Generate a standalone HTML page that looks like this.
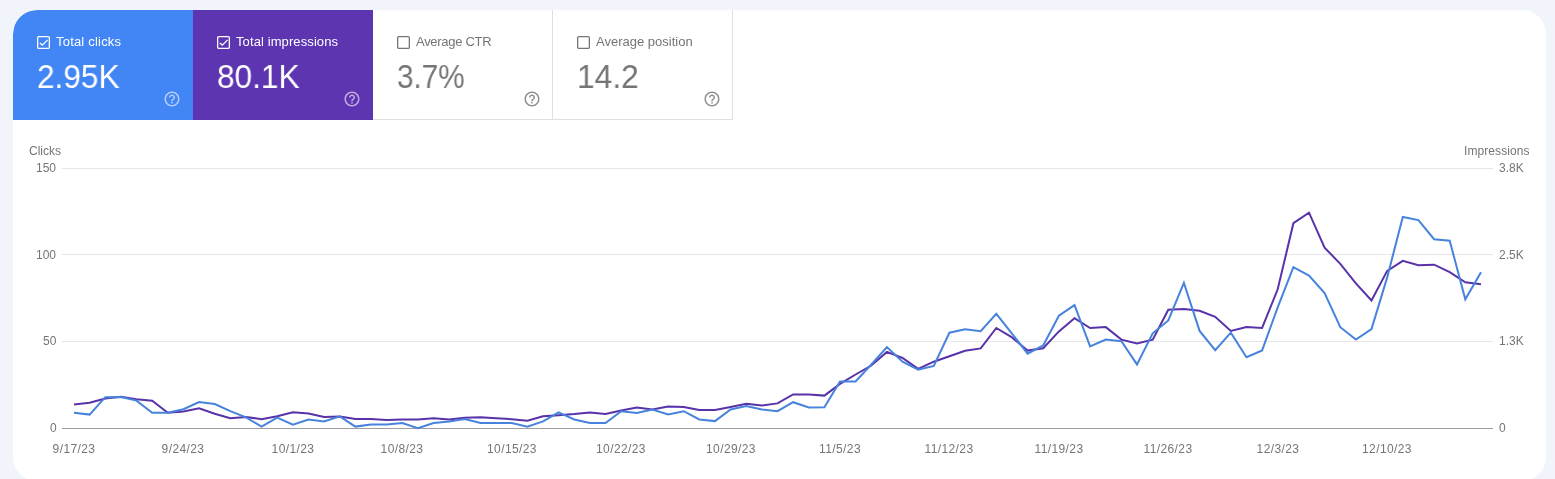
<!DOCTYPE html>
<html><head><meta charset="utf-8"><style>
html,body{margin:0;padding:0;}
body{width:1555px;height:479px;background:#f1f4fb;position:relative;overflow:hidden;font-family:"Liberation Sans",sans-serif;}
.card{position:absolute;left:13px;top:10px;width:1533px;height:471px;background:#fff;border-radius:24px;overflow:hidden;}
.tab{position:absolute;top:0;width:180px;height:110px;}
.lbl{will-change:transform;position:absolute;left:43px;top:24px;font-size:13px;line-height:16px;white-space:nowrap;}
.val{will-change:transform;transform-origin:0 0;position:absolute;left:24px;top:49px;font-size:33px;line-height:36px;white-space:nowrap;}
.ax{will-change:transform;position:absolute;font-size:12px;line-height:14px;color:#757575;white-space:nowrap;}
.xl{will-change:transform;position:absolute;top:442px;width:80px;text-align:center;font-size:12px;line-height:14px;color:#757575;letter-spacing:0.4px;}
</style></head><body>
<div class="card">
<div class="tab" style="left:0px;background:#4285f4;border-top-left-radius:24px;">
<svg width="14" height="14" viewBox="0 0 14 14" style="position:absolute;left:24px;top:26px"><rect x="0.65" y="0.65" width="11.7" height="11.7" rx="1.2" fill="none" stroke="#ffffff" stroke-width="1.3"/><path d="M2.8 7 L5.35 9.1 L10.6 3.9" fill="none" stroke="#ffffff" stroke-width="1.3"/></svg>
<div class="lbl" style="color:#ffffff;letter-spacing:0.2px">Total clicks</div>
<div class="val" style="color:#ffffff;transform:scaleX(0.958)">2.95K</div>
<svg width="18" height="18" viewBox="0 0 24 24" style="position:absolute;left:149.7px;top:80px;opacity:0.6"><path fill="#ffffff" d="M11 18h2v-2h-2v2zm1-16C6.48 2 2 6.48 2 12s4.48 10 10 10 10-4.48 10-10S17.52 2 12 2zm0 18c-4.41 0-8-3.59-8-8s3.59-8 8-8 8 3.590 8 8-3.59 8-8 8zm0-14c-2.210 0-4 1.79-4 4h2c0-1.1.9-2 2-2s2 .9 2 2c0 2-3 1.75-3 5h2c0-2.25 3-2.5 3-5 0-2.21-1.79-4-4-4z"/></svg>
</div>
<div class="tab" style="left:180px;background:#5e35b1;">
<svg width="14" height="14" viewBox="0 0 14 14" style="position:absolute;left:24px;top:26px"><rect x="0.65" y="0.65" width="11.7" height="11.7" rx="1.2" fill="none" stroke="#ffffff" stroke-width="1.3"/><path d="M2.8 7 L5.35 9.1 L10.6 3.9" fill="none" stroke="#ffffff" stroke-width="1.3"/></svg>
<div class="lbl" style="color:#ffffff;letter-spacing:0.1px">Total impressions</div>
<div class="val" style="color:#ffffff;transform:scaleX(0.958)">80.1K</div>
<svg width="18" height="18" viewBox="0 0 24 24" style="position:absolute;left:149.7px;top:80px;opacity:0.6"><path fill="#ffffff" d="M11 18h2v-2h-2v2zm1-16C6.48 2 2 6.48 2 12s4.48 10 10 10 10-4.48 10-10S17.52 2 12 2zm0 18c-4.41 0-8-3.59-8-8s3.59-8 8-8 8 3.590 8 8-3.59 8-8 8zm0-14c-2.210 0-4 1.79-4 4h2c0-1.1.9-2 2-2s2 .9 2 2c0 2-3 1.75-3 5h2c0-2.25 3-2.5 3-5 0-2.21-1.79-4-4-4z"/></svg>
</div>
<div class="tab" style="left:360px;background:#fff;border-right:1px solid #e0e0e0;border-bottom:1px solid #e0e0e0;box-sizing:border-box;">
<svg width="14" height="14" viewBox="0 0 14 14" style="position:absolute;left:24px;top:26px"><rect x="0.65" y="0.65" width="11.7" height="11.7" rx="1.2" fill="none" stroke="#757575" stroke-width="1.3"/></svg>
<div class="lbl" style="color:#757575;letter-spacing:-0.3px">Average CTR</div>
<div class="val" style="color:#757575;transform:scaleX(0.9)">3.7%</div>
<svg width="18" height="18" viewBox="0 0 24 24" style="position:absolute;left:149.7px;top:80px;opacity:0.8"><path fill="#757575" d="M11 18h2v-2h-2v2zm1-16C6.48 2 2 6.48 2 12s4.48 10 10 10 10-4.48 10-10S17.52 2 12 2zm0 18c-4.41 0-8-3.59-8-8s3.59-8 8-8 8 3.590 8 8-3.59 8-8 8zm0-14c-2.210 0-4 1.79-4 4h2c0-1.1.9-2 2-2s2 .9 2 2c0 2-3 1.75-3 5h2c0-2.25 3-2.5 3-5 0-2.21-1.79-4-4-4z"/></svg>
</div>
<div class="tab" style="left:540px;background:#fff;border-right:1px solid #e0e0e0;border-bottom:1px solid #e0e0e0;box-sizing:border-box;">
<svg width="14" height="14" viewBox="0 0 14 14" style="position:absolute;left:24px;top:26px"><rect x="0.65" y="0.65" width="11.7" height="11.7" rx="1.2" fill="none" stroke="#757575" stroke-width="1.3"/></svg>
<div class="lbl" style="color:#757575;letter-spacing:0px">Average position</div>
<div class="val" style="color:#757575;transform:scaleX(0.963)">14.2</div>
<svg width="18" height="18" viewBox="0 0 24 24" style="position:absolute;left:149.7px;top:80px;opacity:0.8"><path fill="#757575" d="M11 18h2v-2h-2v2zm1-16C6.48 2 2 6.48 2 12s4.48 10 10 10 10-4.48 10-10S17.52 2 12 2zm0 18c-4.41 0-8-3.59-8-8s3.59-8 8-8 8 3.590 8 8-3.59 8-8 8zm0-14c-2.210 0-4 1.79-4 4h2c0-1.1.9-2 2-2s2 .9 2 2c0 2-3 1.75-3 5h2c0-2.25 3-2.5 3-5 0-2.21-1.79-4-4-4z"/></svg>
</div>
</div>
<div class="ax" style="left:29px;top:144px">Clicks</div>
<div class="ax" style="left:1464px;top:144px;letter-spacing:0.08px">Impressions</div>
<div class="ax" style="right:1498.7px;top:161px;text-align:right">150</div>
<div class="ax" style="right:1498.7px;top:248px;text-align:right">100</div>
<div class="ax" style="right:1498.7px;top:334px;text-align:right">50</div>
<div class="ax" style="right:1498.7px;top:421px;text-align:right">0</div>
<div class="ax" style="left:1499px;top:161px">3.8K</div>
<div class="ax" style="left:1499px;top:248px">2.5K</div>
<div class="ax" style="left:1499px;top:334px">1.3K</div>
<div class="ax" style="left:1499px;top:421px">0</div>
<div class="xl" style="left:34.0px">9/17/23</div><div class="xl" style="left:143.4px">9/24/23</div><div class="xl" style="left:252.9px">10/1/23</div><div class="xl" style="left:362.3px">10/8/23</div><div class="xl" style="left:471.7px">10/15/23</div><div class="xl" style="left:581.2px">10/22/23</div><div class="xl" style="left:690.6px">10/29/23</div><div class="xl" style="left:800.0px">11/5/23</div><div class="xl" style="left:909.4px">11/12/23</div><div class="xl" style="left:1018.9px">11/19/23</div><div class="xl" style="left:1128.3px">11/26/23</div><div class="xl" style="left:1237.7px">12/3/23</div><div class="xl" style="left:1347.2px">12/10/23</div>
<svg width="1555" height="479" style="position:absolute;left:0;top:0">
<line x1="62" y1="168.5" x2="1493" y2="168.5" stroke="#e6e6e6" stroke-width="1"/>
<line x1="62" y1="254.5" x2="1493" y2="254.5" stroke="#e6e6e6" stroke-width="1"/>
<line x1="62" y1="341.5" x2="1493" y2="341.5" stroke="#e6e6e6" stroke-width="1"/>
<line x1="62" y1="428.5" x2="1493" y2="428.5" stroke="#9e9e9e" stroke-width="1"/>
<polyline points="74.0,404.4 89.6,402.8 105.3,398.6 120.9,396.7 136.5,399.2 152.2,400.8 167.8,412.8 183.4,411.5 199.1,408.3 214.7,413.7 230.3,418.2 246.0,416.9 261.6,419.2 277.2,416.3 292.9,412.2 308.5,413.4 324.1,416.9 339.8,416.5 355.4,419.1 371.0,419.1 386.7,419.9 402.3,419.5 417.9,419.5 433.6,418.2 449.2,419.5 464.8,417.8 480.5,417.2 496.1,418.2 511.7,419.2 527.4,420.8 543.0,416.3 558.6,415.2 574.3,414.0 589.9,412.4 605.5,414.0 621.2,410.6 636.8,407.6 652.4,409.5 668.1,406.5 683.7,406.9 699.3,409.9 715.0,409.9 730.6,406.9 746.2,403.7 761.9,405.6 777.5,403.4 793.1,394.4 808.8,394.4 824.4,395.6 840.0,383.9 855.6,374.5 871.3,365.5 886.9,351.9 902.5,358.0 918.2,368.9 933.8,361.7 949.4,356.2 965.1,350.7 980.7,348.4 996.3,328.0 1012.0,337.4 1027.6,350.6 1043.2,348.3 1058.9,331.4 1074.5,318.2 1090.1,328.0 1105.8,327.1 1121.4,339.6 1137.0,343.5 1152.7,339.7 1168.3,309.8 1183.9,308.9 1199.6,310.7 1215.2,316.8 1230.8,330.9 1246.5,327.1 1262.1,327.9 1277.7,289.3 1293.4,223.2 1309.0,212.7 1324.6,247.7 1340.3,263.8 1355.9,283.3 1371.5,300.5 1387.2,270.9 1402.8,260.9 1418.4,265.2 1434.1,264.7 1449.7,272.2 1465.3,282.3 1481.0,284.3" fill="none" stroke="#5832a8" stroke-width="2" stroke-linejoin="miter"/>
<polyline points="74.0,412.8 89.6,414.6 105.3,397.2 120.9,397.0 136.5,400.6 152.2,412.8 167.8,412.7 183.4,409.2 199.1,402.1 214.7,404.0 230.3,411.1 246.0,417.4 261.6,426.7 277.2,417.6 292.9,424.6 308.5,419.5 324.1,421.4 339.8,416.3 355.4,426.6 371.0,424.6 386.7,424.6 402.3,423.1 417.9,428.1 433.6,423.0 449.2,421.4 464.8,419.1 480.5,423.0 496.1,423.0 511.7,423.0 527.4,426.6 543.0,421.4 558.6,412.4 574.3,419.5 589.9,423.0 605.5,423.0 621.2,411.2 636.8,413.0 652.4,409.5 668.1,414.4 683.7,411.2 699.3,419.5 715.0,421.1 730.6,409.5 746.2,406.0 761.9,409.5 777.5,411.2 793.1,402.2 808.8,407.4 824.4,407.2 840.0,381.4 855.6,381.4 871.3,364.5 886.9,347.1 902.5,361.7 918.2,369.6 933.8,365.9 949.4,332.7 965.1,329.3 980.7,331.2 996.3,313.9 1012.0,333.6 1027.6,353.7 1043.2,345.5 1058.9,315.8 1074.5,305.1 1090.1,346.4 1105.8,339.6 1121.4,341.2 1137.0,364.4 1152.7,333.3 1168.3,320.5 1183.9,282.9 1199.6,330.9 1215.2,350.2 1230.8,332.7 1246.5,357.2 1262.1,350.4 1277.7,307.4 1293.4,267.2 1309.0,275.6 1324.6,293.0 1340.3,327.2 1355.9,339.6 1371.5,329.0 1387.2,277.4 1402.8,216.9 1418.4,220.1 1434.1,239.2 1449.7,240.7 1465.3,299.3 1481.0,272.2" fill="none" stroke="#4783dc" stroke-width="2" stroke-linejoin="miter"/>
</svg>
</body></html>
